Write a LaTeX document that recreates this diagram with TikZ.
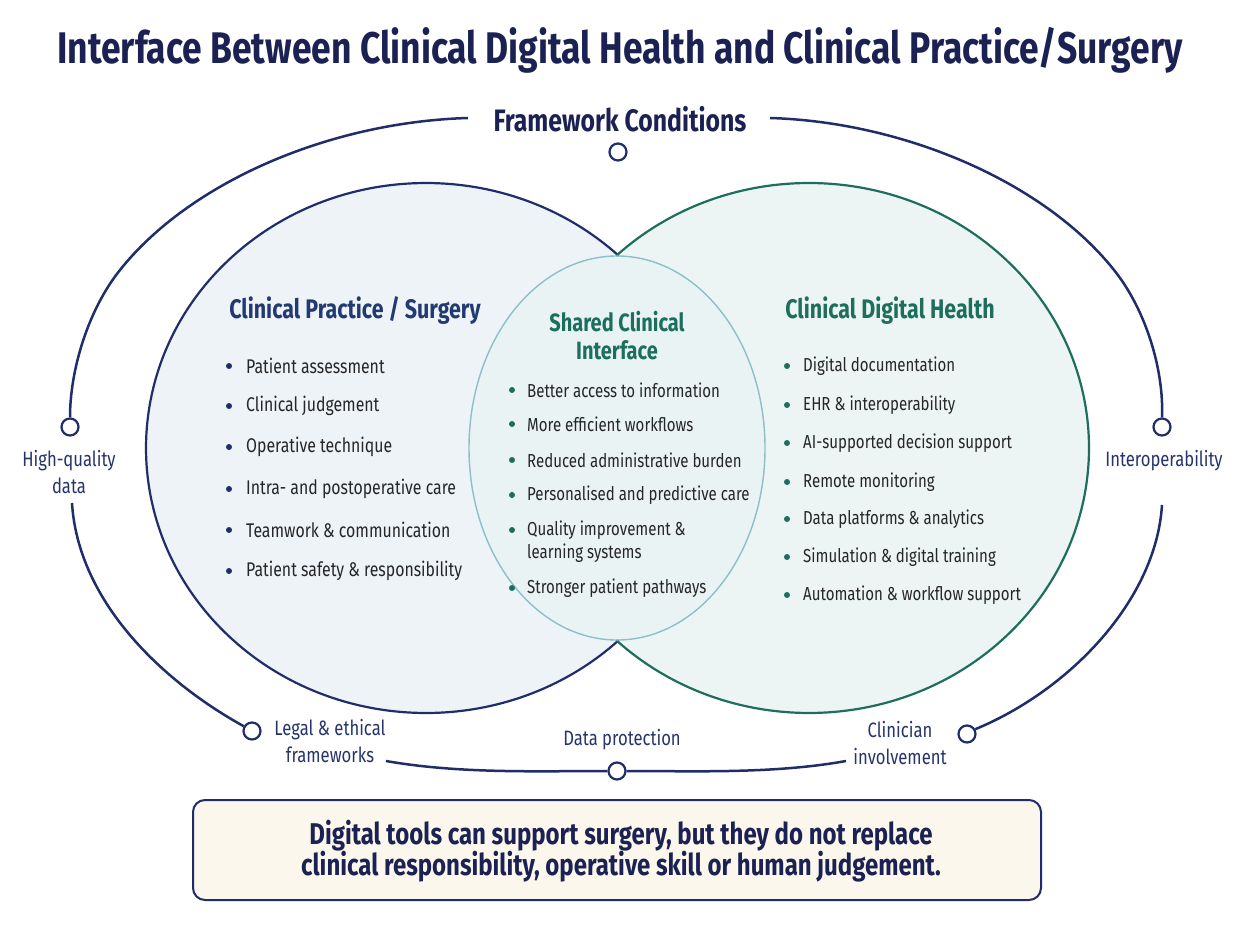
\documentclass[tikz,border=0pt]{standalone}
\usepackage{fontspec}
\setmainfont{Fira Sans}[FakeStretch=0.8]
\usetikzlibrary{positioning}

\definecolor{titlenavy}{HTML}{1B2152}
\definecolor{navyline}{HTML}{1F2D6B}
\definecolor{headblue}{HTML}{223A72}
\definecolor{labelblue}{HTML}{26346A}
\definecolor{greenline}{HTML}{1D6E5C}
\definecolor{midline}{HTML}{8DBFC6}
\definecolor{leftfill}{HTML}{EEF3F8}
\definecolor{rightfill}{HTML}{EDF5F4}
\definecolor{midfill}{HTML}{E9F3F4}
\definecolor{bodytext}{HTML}{262626}
\definecolor{cream}{HTML}{FBF7EC}

\tikzset{
  frameline/.style={draw=navyline, line width=2.5pt},
  ringdot/.style={circle, draw=navyline, fill=white, line width=2.2pt, minimum size=17pt, inner sep=0pt},
  sidelabel/.style={text=labelblue, font=\fontsize{20.8}{27}\selectfont, align=center},
  bulletitem/.style={anchor=west, text=bodytext, font=\fontsize{19.8}{23}\selectfont, inner sep=0pt, align=left},
  smallitem/.style={bulletitem, font=\fontsize{18.8}{23}\selectfont},
  headtxt/.style={font=\bfseries\fontsize{26.8}{28}\selectfont, align=center},
}

\begin{document}
\begin{tikzpicture}[x=1pt,y=-1pt]
\useasboundingbox (0,0) rectangle (1234,925);
\fill[white] (0,0) rectangle (1234,925);

% Title
\node[text=titlenavy, font=\bfseries\fontsize{44.3}{48}\selectfont] (title) at (620,50)
  {Interface Between Clinical Digital Health and Clinical Practice/Surgery};

% Venn fills
\fill[leftfill] (426,448) ellipse [x radius=280, y radius=265];
\fill[rightfill] (809,448) ellipse [x radius=280, y radius=265];
\fill[midfill] (617,448) ellipse [x radius=148, y radius=192];

% Venn outlines
\draw[navyline, line width=2.2pt] (426,448) ++(46.5:280 and 265)
  arc[start angle=46.5, end angle=313.5, x radius=280, y radius=265];
\draw[greenline, line width=2.2pt] (809,448) ++(-133.5:280 and 265)
  arc[start angle=-133.5, end angle=133.5, x radius=280, y radius=265];
\draw[midline, line width=1.4pt] (617,448) ellipse [x radius=148, y radius=192];

% Framework labels and rings
\node[text=titlenavy, font=\bfseries\fontsize{31}{33}\selectfont] (fwlabel) at (620,119) {Framework Conditions};
\node[ringdot] (fwdot) at (618,152) {};
\node[ringdot] (hqdot) at (70,427) {};
\node[sidelabel] (hqlabel) at (69,472) {High-quality\\data};
\node[ringdot] (iodot) at (1162,427) {};
\node[sidelabel] (iolabel) at (1164,461) {Interoperability};
\node[ringdot] (legaldot) at (252,731) {};
\node[sidelabel] (legallabel) at (330,741) {Legal \& ethical\\frameworks};
\node[ringdot] (dpdot) at (617,771) {};
\node[sidelabel] (dplabel) at (622,740) {Data protection};
\node[ringdot] (clindot) at (967,734) {};
\node[sidelabel] (clinlabel) at (900,743) {Clinician\\involvement};

\coordinate (gapL) at (468,118);
\coordinate (gapR) at (770,118);
\coordinate (hqlow) at (72,503);
\coordinate (iolow) at (1162,505);
\coordinate (botL) at (386,761);
\coordinate (botR) at (846,761);

% Framework ring
\draw[frameline] (gapL) .. controls (330,122) and (190,182) .. (120,270)
  .. controls (88,310) and (70,370) .. (hqdot.north);
\draw[frameline] (hqlow) .. controls (78,600) and (160,680) .. (legaldot.150);
\draw[frameline] (gapR) .. controls (904,122) and (1044,182) .. (1114,270)
  .. controls (1146,310) and (1164,370) .. (iodot.north);
\draw[frameline] (iolow) .. controls (1156,600) and (1070,690) .. (clindot.30);
\draw[frameline] (botL) .. controls (460,774) and (540,771) .. (dpdot.west);
\draw[frameline] (dpdot.east) .. controls (694,771) and (774,774) .. (botR);

% Clinical practice / surgery
\node[headtxt, text=headblue] (cphead) at (355,311) {Clinical Practice / Surgery};
\foreach \txt/\yy [count=\i] in {Patient assessment/366, Clinical judgement/406,
    Operative technique/447, Intra- and postoperative care/489,
    Teamwork \& communication/530, Patient safety \& responsibility/571} {
  \fill[navyline] (229,\yy) circle (3);
  \node[bulletitem] (cpitem\i) at (246,\yy) {\txt};
}

% Shared interface
\node[headtxt, text=greenline, font=\bfseries\fontsize{25}{28}\selectfont] (sharedhead) at (617,336) {Shared Clinical\\Interface};
\foreach \txt/\yy [count=\i] in {Better access to information/390, More efficient workflows/424,
    Reduced administrative burden/460, Personalised and predictive care/495,
    Stronger patient pathways/588} {
  \fill[greenline] (512,\yy) circle (3);
  \node[smallitem] (shitem\i) at (527,\yy) {\txt};
}
\fill[greenline] (512,530) circle (3);
\node[smallitem] (shitemq) at (527,541.5) {Quality improvement \&\\learning systems};

% Clinical digital health
\node[headtxt, text=greenline] (cdhhead) at (890,311) {Clinical Digital Health};
\foreach \txt/\yy [count=\i] in {Digital documentation/366, EHR \& interoperability/405,
    AI-supported decision support/443, Remote monitoring/482,
    Data platforms \& analytics/519, Simulation \& digital training/557,
    Automation \& workflow support/595} {
  \fill[greenline] (787,\yy) circle (3);
  \node[smallitem] (cdhitem\i) at (803,\yy) {\txt};
}

% Key message
\draw[navyline, line width=2pt, fill=cream, rounded corners=12pt] (193,800) rectangle (1041,900);
\node[text=titlenavy, font=\bfseries\fontsize{30}{31}\selectfont, align=center] (keymsg) at (621,851)
  {Digital tools can support surgery, but they do not replace\\clinical responsibility, operative skill or human judgement.};
\end{tikzpicture}
\end{document}
